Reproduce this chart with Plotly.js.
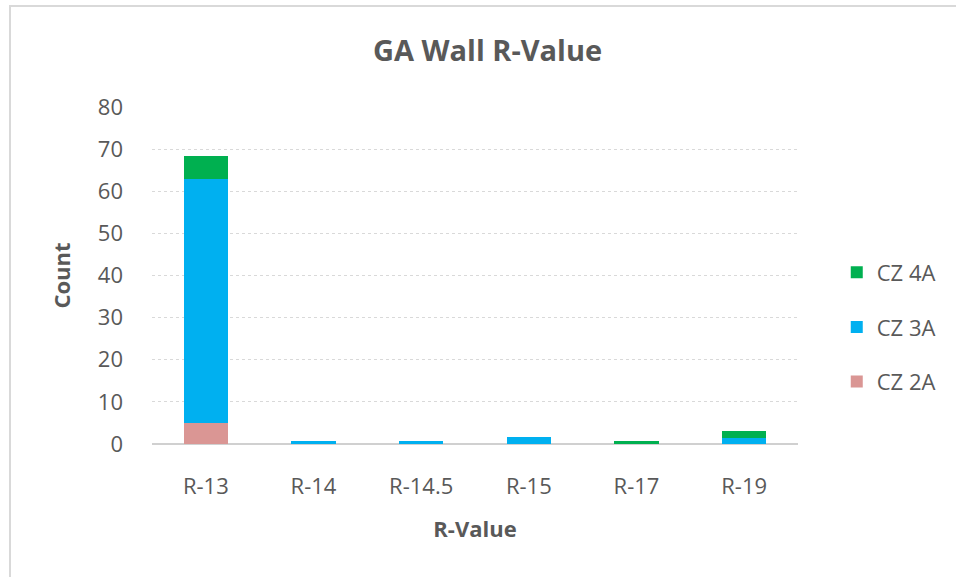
<!DOCTYPE html>
<html>
<head>
<meta charset="utf-8">
<script src="https://cdn.plot.ly/plotly-3.0.1.min.js"></script>
<style>
html,body{margin:0;padding:0;background:#fff;}
#chart{width:956px;height:577px;position:relative;}
#frame{position:absolute;left:9px;top:5px;width:960px;height:600px;border-left:2px solid #d9d9d9;border-top:2px solid #d9d9d9;pointer-events:none;}
</style>
</head>
<body>
<div id="chart"></div>
<div id="frame"></div>
<script>
const categories = ["R-13", "R-14", "R-14.5", "R-15", "R-17", "R-19"];
const cz2A = [5, 0, 0, 0, 0, 0];
const cz3A = [58, 0.8, 0.8, 1.7, 0, 1.5];
const cz4A = [5.3, 0, 0, 0, 0.8, 1.5];
const seriesNames = ["CZ 2A", "CZ 3A", "CZ 4A"];
const colors = ["#DA9694", "#00B0F0", "#00B050"];
const legendRanks = [3, 2, 1];

const data = [cz2A, cz3A, cz4A].map((vals, i) => ({
  type: "bar",
  x: categories,
  y: vals,
  name: seriesNames[i],
  legendgroup: "g" + i,
  legendrank: legendRanks[i],
  marker: {color: colors[i]},
  hoverinfo: "x+y+name"
}));

const layout = {
  width: 956,
  height: 577,
  barmode: "stack",
  bargap: 0.59,
  paper_bgcolor: "#fff",
  plot_bgcolor: "#fff",
  margin: {l: 152, r: 158, t: 107, b: 133},
  font: {family: "Open Sans, Liberation Sans, sans-serif", color: "#595959", size: 22},
  title: {
    text: "<b>GA Wall R-Value</b>",
    font: {size: 29, color: "#595959"},
    x: 0.51, xanchor: "center",
    y: 0.912, yanchor: "middle"
  },
  xaxis: {
    title: {text: "<b>R-Value</b>", font: {size: 22, color: "#595959"}, standoff: 22},
    showline: false,
    showgrid: false,
    ticks: "",
    tickfont: {size: 22, color: "#595959"},
    ticklabelstandoff: 27
  },
  yaxis: {
    title: {text: "<b>Count</b>", font: {size: 22, color: "#595959"}, standoff: 21},
    range: [0, 80],
    dtick: 10,
    showgrid: true,
    gridcolor: "#d9d9d9",
    gridwidth: 1,
    griddash: "dot",
    zeroline: true,
    zerolinecolor: "#d0d0d0",
    zerolinewidth: 2,
    ticks: "",
    tickfont: {size: 22, color: "#595959"},
    ticklabelstandoff: 28
  },
  legend: {
    x: 1.06, xanchor: "left",
    y: 0.347, yanchor: "middle",
    traceorder: "grouped",
    tracegroupgap: 23,
    font: {size: 22, color: "#595959"},
    itemwidth: 30
  },
  showlegend: true
};

Plotly.newPlot("chart", data, layout, {displayModeBar: false, staticPlot: true});
</script>
</body>
</html>
